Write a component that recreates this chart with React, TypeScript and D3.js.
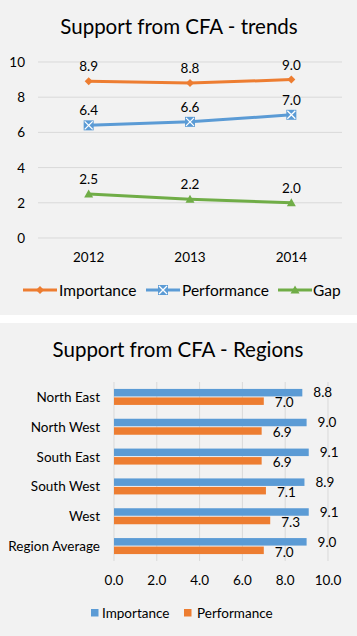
import React from "react";
import * as d3 from "d3";

const years = ["2012", "2013", "2014"];
const importanceTrend = [8.9, 8.8, 9.0];
const performanceTrend = [6.4, 6.6, 7.0];
const gapTrend = [2.5, 2.2, 2.0];
const trendTicks = [0, 2, 4, 6, 8, 10];

const regions = ["North East", "North West", "South East", "South West", "West", "Region Average"];
const importanceRegion = [8.8, 9.0, 9.1, 8.9, 9.1, 9.0];
const performanceRegion = [7.0, 6.9, 6.9, 7.1, 7.3, 7.0];
const regionTicks = [0, 2, 4, 6, 8, 10];

const ORANGE = "#ED7D31";
const BLUE = "#5B9BD5";
const GREEN = "#70AD47";
const GRID = "#d9d9d9";
const TEXT = "#000000";
const FONT = "Lato, 'Open Sans', sans-serif";

function Marker({ kind, x, y, color }: { kind: string; x: number; y: number; color: string }) {
  if (kind === "diamond") {
    const s = 4;
    return <path d={`M${x},${y - s}L${x + s},${y}L${x},${y + s}L${x - s},${y}Z`} fill={color} />;
  }
  if (kind === "x") {
    const s = 5;
    return (
      <g>
        <rect x={x - s} y={y - s} width={2 * s} height={2 * s} fill={color} />
        <path d={`M${x - s + 1},${y - s + 1}L${x + s - 1},${y + s - 1}M${x + s - 1},${y - s + 1}L${x - s + 1},${y + s - 1}`} stroke="#fff" strokeWidth={1.3} />
      </g>
    );
  }
  const s = 4.5;
  return <path d={`M${x},${y - s}L${x + s},${y + s - 1}L${x - s},${y + s - 1}Z`} fill={color} />;
}

function TrendChart() {
  const x = d3.scaleBand<string>().domain(years).range([38, 342]);
  const y = d3.scaleLinear().domain([0, 10]).range([238, 62]);
  const line = d3
    .line<number>()
    .x((_, i) => (x(years[i]) as number) + x.bandwidth() / 2)
    .y((d) => y(d));
  const series = [
    { name: "Importance", values: importanceTrend, color: ORANGE, marker: "diamond" },
    { name: "Performance", values: performanceTrend, color: BLUE, marker: "x" },
    { name: "Gap", values: gapTrend, color: GREEN, marker: "tri" },
  ];
  const legend = [
    { lx: 23, tx: 59 },
    { lx: 146, tx: 182 },
    { lx: 278, tx: 313 },
  ];
  return (
    <g>
      <rect x={0} y={0} width={357} height={315} fill="#f2f2f2" />
      <text x={179} y={34} textAnchor="middle" fontSize={20.5} fontFamily={FONT} fill={TEXT}>
        Support from CFA - trends
      </text>
      {trendTicks.map((t) => (
        <g key={t}>
          <line x1={38} x2={342} y1={y(t)} y2={y(t)} stroke={GRID} strokeWidth={1} />
          <text x={25} y={y(t) + 5} textAnchor="end" fontSize={13.5} fontFamily={FONT} fill={TEXT}>
            {t}
          </text>
        </g>
      ))}
      {years.map((yr) => (
        <text key={yr} x={(x(yr) as number) + x.bandwidth() / 2} y={262} textAnchor="middle" fontSize={13.5} fontFamily={FONT} fill={TEXT}>
          {yr}
        </text>
      ))}
      {series.map((s) => (
        <g key={s.name}>
          <path d={line(s.values) as string} fill="none" stroke={s.color} strokeWidth={3} />
          {s.values.map((v, i) => {
            const cx = (x(years[i]) as number) + x.bandwidth() / 2;
            return (
              <g key={i}>
                <Marker kind={s.marker} x={cx} y={y(v)} color={s.color} />
                <text x={cx} y={y(v) - 10} textAnchor="middle" fontSize={13.5} fontFamily={FONT} fill={TEXT}>
                  {v.toFixed(1)}
                </text>
              </g>
            );
          })}
        </g>
      ))}
      {series.map((s, i) => (
        <g key={s.name}>
          <line x1={legend[i].lx} x2={legend[i].lx + 34} y1={290} y2={290} stroke={s.color} strokeWidth={3} />
          <Marker kind={s.marker} x={legend[i].lx + 17} y={290} color={s.color} />
          <text x={legend[i].tx} y={295.5} fontSize={15.5} fontFamily={FONT} fill={TEXT}>
            {s.name}
          </text>
        </g>
      ))}
    </g>
  );
}

function RegionChart() {
  const y = d3.scaleBand<string>().domain(regions).range([382, 561]);
  const x = d3.scaleLinear().domain([0, 10]).range([114, 328]);
  const barH = 7.5;
  return (
    <g>
      <rect x={0} y={323} width={357} height={313} fill="#f2f2f2" />
      <text x={178} y={357} textAnchor="middle" fontSize={20.5} fontFamily={FONT} fill={TEXT}>
        Support from CFA - Regions
      </text>
      {regionTicks.map((t) => (
        <g key={t}>
          <line x1={x(t)} x2={x(t)} y1={382} y2={561} stroke={GRID} strokeWidth={1} />
          <text x={x(t)} y={585} textAnchor="middle" fontSize={13.5} fontFamily={FONT} fill={TEXT}>
            {t.toFixed(1)}
          </text>
        </g>
      ))}
      {regions.map((r, i) => {
        const c = (y(r) as number) + y.bandwidth() / 2;
        return (
          <g key={r}>
            <text x={100} y={c + 5} textAnchor="end" fontSize={13.5} fontFamily={FONT} fill={TEXT}>
              {r}
            </text>
            <rect x={x(0)} y={c - barH - 0.5} width={x(importanceRegion[i]) - x(0)} height={barH} fill={BLUE} />
            <rect x={x(0)} y={c + 0.5} width={x(performanceRegion[i]) - x(0)} height={barH} fill={ORANGE} />
            <text x={x(importanceRegion[i]) + 11} y={c + 0.5} fontSize={13.5} fontFamily={FONT} fill={TEXT}>
              {importanceRegion[i].toFixed(1)}
            </text>
            <text x={x(performanceRegion[i]) + 11} y={c + 10.5} fontSize={13.5} fontFamily={FONT} fill={TEXT}>
              {performanceRegion[i].toFixed(1)}
            </text>
          </g>
        );
      })}
      <rect x={91} y={609} width={7.5} height={7.5} fill={BLUE} />
      <text x={102} y={617.5} fontSize={13.5} fontFamily={FONT} fill={TEXT}>
        Importance
      </text>
      <rect x={184} y={609} width={7.5} height={7.5} fill={ORANGE} />
      <text x={197} y={617.5} fontSize={13.5} fontFamily={FONT} fill={TEXT}>
        Performance
      </text>
    </g>
  );
}

export default function App() {
  return (
    <svg width={357} height={636} style={{ position: "absolute", left: 0, top: 0, background: "#fff" }}>
      <rect x={0} y={0} width={357} height={636} fill="#fff" />
      <TrendChart />
      <RegionChart />
    </svg>
  );
}
